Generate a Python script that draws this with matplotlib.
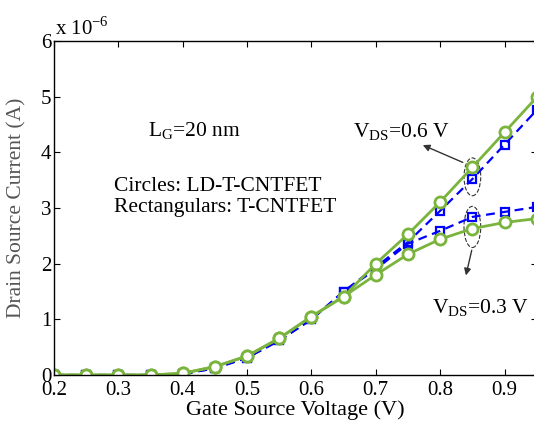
import matplotlib.pyplot as plt
from matplotlib.patches import Ellipse

plt.rcParams['font.family'] = ['Liberation Serif', 'DejaVu Serif']
plt.rcParams['mathtext.fontset'] = 'custom'
plt.rcParams['mathtext.rm'] = 'Liberation Serif'

# gate source voltage (V)
vgs = [0.2, 0.25, 0.3, 0.35, 0.4, 0.45, 0.5, 0.55, 0.6, 0.65, 0.7, 0.75, 0.8, 0.85, 0.9, 0.95]

# drain current (x1e-6 A)
ld_06 = [0, 0, 0, 0, 0.03, 0.15, 0.34, 0.66, 1.05, 1.41, 2.0, 2.53, 3.11, 3.73, 4.36, 4.99]
t_06 = [0, 0, 0, 0, 0.02, 0.12, 0.31, 0.62, 1.0, 1.5, 1.94, 2.39, 2.95, 3.52, 4.14, 4.76]
ld_03 = [0, 0, 0, 0, 0.03, 0.15, 0.34, 0.66, 1.05, 1.41, 1.80, 2.17, 2.44, 2.63, 2.74, 2.81]
t_03 = [0, 0, 0, 0, 0.02, 0.12, 0.31, 0.62, 1.0, 1.5, 1.90, 2.36, 2.59, 2.84, 2.93, 3.02]

green = '#7ab43c'
blue = '#0000ff'
dark = '#333333'

fig = plt.figure(figsize=(5.34, 4.26), dpi=100)
ax = fig.add_axes([0.1011, 0.1197, 0.904, 0.784])

ax.plot(vgs, t_06, '--s', color=blue, lw=1.6, ms=6, mfc='none', mew=1.6, dashes=(4, 2.5))
ax.plot(vgs, t_03, '--s', color=blue, lw=1.6, ms=6, mfc='none', mew=1.6, dashes=(4, 2.5))
ax.plot(vgs, ld_06, '-o', color=green, lw=2, ms=8, mfc='white', mew=2)
ax.plot(vgs, ld_03, '-o', color=green, lw=2, ms=8, mfc='white', mew=2)

ax.set_xlim(0.2, 0.95)
ax.set_ylim(0, 6)
ax.set_xticks([0.2, 0.3, 0.4, 0.5, 0.6, 0.7, 0.8, 0.9])
ax.set_xticklabels(['0.2', '0.3', '0.4', '0.5', '0.6', '0.7', '0.8', '0.9'])
ax.set_yticks([0, 1, 2, 3, 4, 5, 6])
ax.tick_params(direction='in', length=4, labelsize=15, pad=2, top=True, right=True)
ax.tick_params(axis='x', pad=4)
for s in ax.spines.values():
    s.set_linewidth(1)

ax.set_xlabel('Gate Source Voltage (V)', fontsize=16)
ax.xaxis.set_label_coords(0.5, -0.075)
ax.set_ylabel('Drain Source Current (A)', fontsize=15.5, color='#555555')
ax.yaxis.set_label_coords(-0.056, 0.5)
ax.text(0.202, 6.03, r'x 10$^{-6}$', fontsize=15, va='bottom', ha='left')

ax.text(0.346, 4.29, r'L$_{\mathregular{G}}$=20 nm', fontsize=15.5, va='baseline')
ax.text(0.293, 3.31, 'Circles: LD-T-CNTFET', fontsize=15.5, va='baseline')
ax.text(0.293, 2.93, 'Rectangulars: T-CNTFET', fontsize=15.5, va='baseline')
ax.text(0.664, 4.26, r'V$_{\mathregular{DS}}$=0.6 V', fontsize=15.5, va='baseline')
ax.text(0.788, 1.11, r'V$_{\mathregular{DS}}$=0.3 V', fontsize=15.5, va='baseline')

ax.add_patch(Ellipse((0.85, 3.56), 0.026, 0.68, fill=False, ls='--', lw=0.8, color=dark))
ax.add_patch(Ellipse((0.85, 2.66), 0.026, 0.74, fill=False, ls='--', lw=0.8, color=dark))
ax.annotate('', xy=(0.769, 4.15), xytext=(0.839, 3.8),
            arrowprops=dict(arrowstyle='-|>', color=dark, lw=1, mutation_scale=10))
ax.annotate('', xy=(0.839, 1.74), xytext=(0.850, 2.29),
            arrowprops=dict(arrowstyle='-|>', color=dark, lw=1, mutation_scale=10))

fig.savefig('out.png', dpi=100)
